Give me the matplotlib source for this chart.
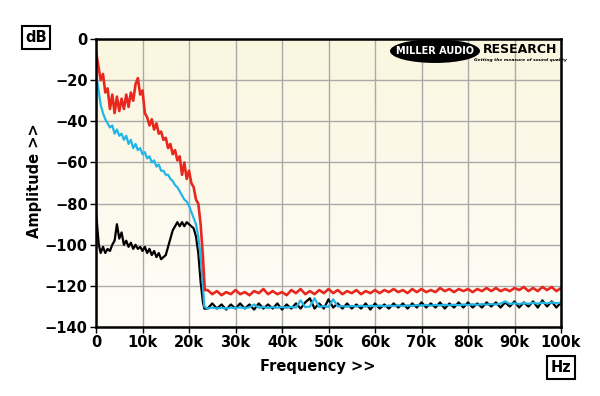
import numpy as np
from matplotlib import pyplot as plt
from matplotlib.patches import Ellipse
from matplotlib.colors import LinearSegmentedColormap

# frequencies in kHz, levels in dB
f_red_hf = [0, 0.5, 1, 1.5, 2, 2.5, 3, 3.5, 4, 4.5, 5, 5.5, 6, 6.5, 7, 7.5, 8, 8.5, 9, 9.5,
            10, 10.5, 11, 11.5, 12, 12.5, 13, 13.5, 14, 14.5, 15, 15.5, 16, 16.5, 17, 17.5,
            18, 18.5, 19, 19.5, 20, 20.5, 21, 21.5, 22, 22.5, 23, 23.4]
red_hf = [-6, -13, -20, -17, -26, -24, -34, -27, -36, -28, -35, -29, -34, -27, -33, -26, -30, -22, -19, -27,
          -25, -36, -38, -42, -39, -44, -41, -46, -45, -49, -48, -53, -51, -56, -54, -59,
          -57, -66, -60, -68, -64, -70, -72, -78, -80, -90, -106, -122]

f_cyan_hf = [0, 0.5, 1, 1.5, 2, 2.5, 3, 3.5, 4, 4.5, 5, 5.5, 6, 6.5, 7, 7.5, 8, 8.5, 9, 9.5,
             10, 10.5, 11, 11.5, 12, 12.5, 13, 13.5, 14, 14.5, 15, 15.5, 16, 16.5, 17, 17.5,
             18, 18.5, 19, 19.5, 20, 20.5, 21, 21.5, 22, 22.5, 23, 23.3]
cyan_hf = [-17, -24, -32, -36, -39, -41, -43, -42, -46, -44, -47, -46, -49, -47, -51, -49, -53, -51, -54, -53,
           -56, -55, -58, -57, -60, -59, -62, -61, -64, -64, -66, -66, -68, -69, -71, -72,
           -74, -76, -78, -79, -81, -84, -87, -90, -96, -106, -120, -130]

f_black_hf = [0, 0.3, 0.6, 1, 1.5, 2, 2.5, 3, 3.5, 4, 4.5, 5, 5.5, 6, 6.5, 7, 7.5, 8, 8.5, 9, 9.5,
              10, 10.5, 11, 11.5, 12, 12.5, 13, 13.5, 14, 14.5, 15, 15.5, 16, 16.5, 17, 17.5,
              18, 18.5, 19, 19.5, 20, 20.5, 21, 21.5, 22, 22.5, 23, 23.3]
black_hf = [-84, -92, -100, -104, -101, -104, -102, -103, -100, -98, -90, -97, -94, -100, -98, -101, -99, -102, -100, -102, -101,
            -103, -101, -104, -102, -105, -103, -106, -104, -107, -106, -105, -101, -97, -93, -91, -89,
            -91, -89, -91, -89, -90, -91, -92, -96, -104, -118, -128, -131]

# noise floor, 24k..100k in 1k steps
f_floor = list(range(24, 101))
red_floor = [-122, -124, -122.5, -124.5, -123, -124, -122, -124, -123, -124.5, -122.5, -123.5, -121.5, -124, -122.5, -124,
             -123, -124.5, -122, -123.5, -121.5, -124, -122.5, -124, -122, -123.5, -121.5, -123.5, -122, -124, -122.5,
             -123.5, -122, -124, -122.5, -123.5, -122, -123.5, -122, -123, -121.5, -123, -122, -123.5, -121.5, -123,
             -121.5, -123, -122, -123, -121, -122.5, -121.5, -123, -121.5, -122.5, -121.5, -123, -121.5, -122.5, -121,
             -122.5, -121, -122.5, -121.5, -122.5, -121, -122, -120.5, -122.5, -121, -122.5, -120.5, -122, -120.5,
             -122.5, -121]
cyan_floor = [-131, -130.5, -131, -130.6, -131, -130.5, -130.8, -130.4, -130.8, -130.4, -129, -130.6, -130.2, -130.7,
              -130.3, -130.6, -130.2, -130.6, -130.2, -130.5, -127, -130.3, -130, -126, -130.2, -129.8, -130.2, -126.5,
              -130, -129.8, -130.1, -129.7, -130, -129.6, -130, -129.6, -129.9, -129.5, -129.9, -129.5, -129.8, -129.4,
              -129.8, -129.4, -129.7, -129.3, -129.6, -129.2, -129.6, -129.2, -129.5, -129.1, -129.5, -129.1, -129.4,
              -129, -129.3, -128.9, -129.2, -128.8, -129.1, -128.8, -129, -128.6, -127.5, -128.8, -128.4, -128.8,
              -128.3, -128.7, -128.2, -128.6, -128.1, -128.5, -128, -128.4, -128.2]
black_floor = [-131, -128.5, -131, -129, -131.5, -129, -131, -128.5, -131, -129, -131.5, -128.5, -131, -129, -131,
               -128.5, -131.5, -129, -131, -128.5, -131, -128, -126, -131, -128.5, -131, -126.5, -130.5, -128.5, -131,
               -128.5, -131, -129, -131, -128.5, -131.5, -128.5, -131, -129, -131, -128.5, -130.5, -128.5, -131,
               -128.5, -130.5, -128, -130.5, -128.5, -130.5, -128, -131, -128.5, -130.5, -128, -130.5, -128, -130.5,
               -128.5, -130.5, -128, -130, -128, -130.5, -128, -130, -127.5, -130.5, -128, -130, -127.5, -130.5, -127,
               -130, -127.5, -130.5, -128]

x_ticks = [0, 10, 20, 30, 40, 50, 60, 70, 80, 90, 100]
x_labels = ['0', '10k', '20k', '30k', '40k', '50k', '60k', '70k', '80k', '90k', '100k']
y_ticks = [0, -20, -40, -60, -80, -100, -120, -140]

fig = plt.figure(figsize=(6, 3.96), dpi=100)
ax = fig.add_axes([0.16, 0.174, 0.775, 0.7275])

# cream background, fading to near white at the bottom
grad = np.linspace(0, 1, 100).reshape(-1, 1)
cream = LinearSegmentedColormap.from_list('cr', ['#FEFDF8', '#FBF6DF'])
ax.imshow(grad, extent=[0, 100000, -140, 0], aspect='auto', origin='lower', cmap=cream, zorder=0)

def khz(v):
    return [x * 1000 for x in v]

ax.plot(khz(f_black_hf + f_floor), black_hf + black_floor, color='black', lw=1.6, zorder=3)
ax.plot(khz(f_cyan_hf + f_floor), cyan_hf + cyan_floor, color='#22B5E8', lw=1.6, zorder=4)
ax.plot(khz(f_red_hf + f_floor), red_hf + red_floor, color='#E8281E', lw=1.9, zorder=5)

ax.set_xlim(0, 100000)
ax.set_ylim(-140, 0)
ax.set_xticks(khz(x_ticks))
ax.set_xticklabels(x_labels)
ax.set_yticks(y_ticks)
ax.grid(True, color='#AAAAAA', lw=1, zorder=1)
ax.set_axisbelow(True)
for s in ax.spines.values():
    s.set_linewidth(1.8)
    s.set_zorder(6)
ax.tick_params(axis='both', length=4, width=1, labelsize=10.5, pad=2)
for lab in ax.get_xticklabels() + ax.get_yticklabels():
    lab.set_fontweight('bold')

fig.text(0.53, 0.075, 'Frequency >>', ha='center', va='center', fontsize=10.5, fontweight='bold')
fig.text(0.058, 0.545, 'Amplitude >>', ha='center', va='center', rotation=90, fontsize=10.5, fontweight='bold')
box = dict(boxstyle='square,pad=0.25', facecolor='white', edgecolor='black', lw=1.5)
fig.text(0.06, 0.905, 'dB', ha='center', va='center', fontsize=10.5, fontweight='bold', bbox=box)
fig.text(0.935, 0.072, 'Hz', ha='center', va='center', fontsize=10.5, fontweight='bold', bbox=box)

# logo
fig.patches.append(Ellipse((0.725, 0.871), 0.15, 0.06, transform=fig.transFigure,
                           facecolor='black', edgecolor='none', zorder=10))
fig.text(0.725, 0.871, 'MILLER AUDIO', ha='center', va='center', color='white',
         fontsize=7, fontweight='heavy', zorder=11)
fig.text(0.866, 0.874, 'RESEARCH', ha='center', va='center', color='black',
         fontsize=9, fontweight='heavy', zorder=11)
fig.text(0.868, 0.848, 'Getting the measure of sound quality', ha='center', va='center',
         color='black', fontsize=3.2, fontweight='bold', style='italic', zorder=11)

fig.savefig('out.png', dpi=100)
